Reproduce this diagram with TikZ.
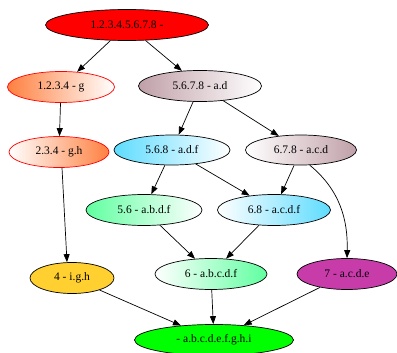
\documentclass[tikz,border=0pt]{standalone}
\usepackage{fontspec}
\setmainfont{Liberation Serif}
\usetikzlibrary{shapes.geometric,arrows.meta}
\definecolor{corange}{HTML}{FF8040}
\definecolor{crosy}{HTML}{C0A0A8}
\definecolor{ccyan}{HTML}{5EDCFF}
\definecolor{cmint}{HTML}{60FFA0}
\definecolor{cgold}{HTML}{FFD030}
\definecolor{cpurple}{HTML}{C83CAA}
\begin{document}
\begin{tikzpicture}[x=1pt,y=-1pt,
  nd/.style={ellipse,draw=black,line width=0.7pt,inner sep=0pt,font=\fontsize{11.5}{12}\selectfont},
  rednd/.style={nd,draw=red},
  edge/.style={line width=0.7pt,-{Triangle[length=8pt,width=6pt]}}]
\useasboundingbox (0,0) rectangle (397,353);
\node[nd,fill=red,minimum width=163pt,minimum height=31pt] (n0) at (127,25) {1.2.3.4.5.6.7.8 -};
\node[rednd,left color=corange,right color=white,minimum width=107pt,minimum height=31pt] (n1) at (61,87) {1.2.3.4 - g};
\node[nd,left color=crosy,right color=white,minimum width=123pt,minimum height=31pt] (n2) at (200,86) {5.6.7.8 - a.d};
\node[rednd,left color=white,right color=corange,minimum width=100pt,minimum height=31pt] (n3) at (59,152) {2.3.4 - g.h};
\node[nd,left color=ccyan,right color=white,minimum width=116pt,minimum height=30pt] (n4) at (172,150) {5.6.8 - a.d.f};
\node[nd,left color=white,right color=crosy,minimum width=111pt,minimum height=30pt] (n5) at (301,150) {6.7.8 - a.c.d};
\node[nd,left color=cmint,right color=white,minimum width=116pt,minimum height=31pt] (n6) at (144,210) {5.6 - a.b.d.f};
\node[nd,left color=white,right color=ccyan,minimum width=113pt,minimum height=31pt] (n7) at (274,210) {6.8 - a.c.d.f};
\node[nd,fill=cgold,minimum width=84pt,minimum height=31pt] (n8) at (72,278) {4 - i.g.h};
\node[nd,left color=white,right color=cmint,minimum width=112pt,minimum height=31pt] (n9) at (211,274) {6 - a.b.c.d.f};
\node[nd,fill=cpurple,minimum width=100pt,minimum height=31pt] (n10) at (347,274) {7 - a.c.d.e};
\node[nd,fill=green,minimum width=159pt,minimum height=31pt] (n11) at (214,340) {- a.b.c.d.e.f.g.h.i};
\coordinate (c3) at ([xshift=3pt]n3.south);
\coordinate (c8) at ([xshift=-5pt]n8.north);
\draw[edge] (n0) -- (n1);
\draw[edge] (n0) -- (n2);
\draw[edge] (n1) -- (n3);
\draw[edge] (n2) -- (n4);
\draw[edge] (n2) -- (n5);
\draw[edge] (c3) -- (c8);
\draw[edge] (n4) -- (n6);
\draw[edge] (n4) -- (n7);
\draw[edge] (n5) -- (n7);
\draw[edge] (n5.-60) .. controls (340,190) and (348,220) .. (n10.north);
\draw[edge] (n6) -- (n9);
\draw[edge] (n7) -- (n9);
\draw[edge] (n8) -- (n11);
\draw[edge] (n9) -- (n11);
\draw[edge] (n10) -- (n11);
\end{tikzpicture}
\end{document}
